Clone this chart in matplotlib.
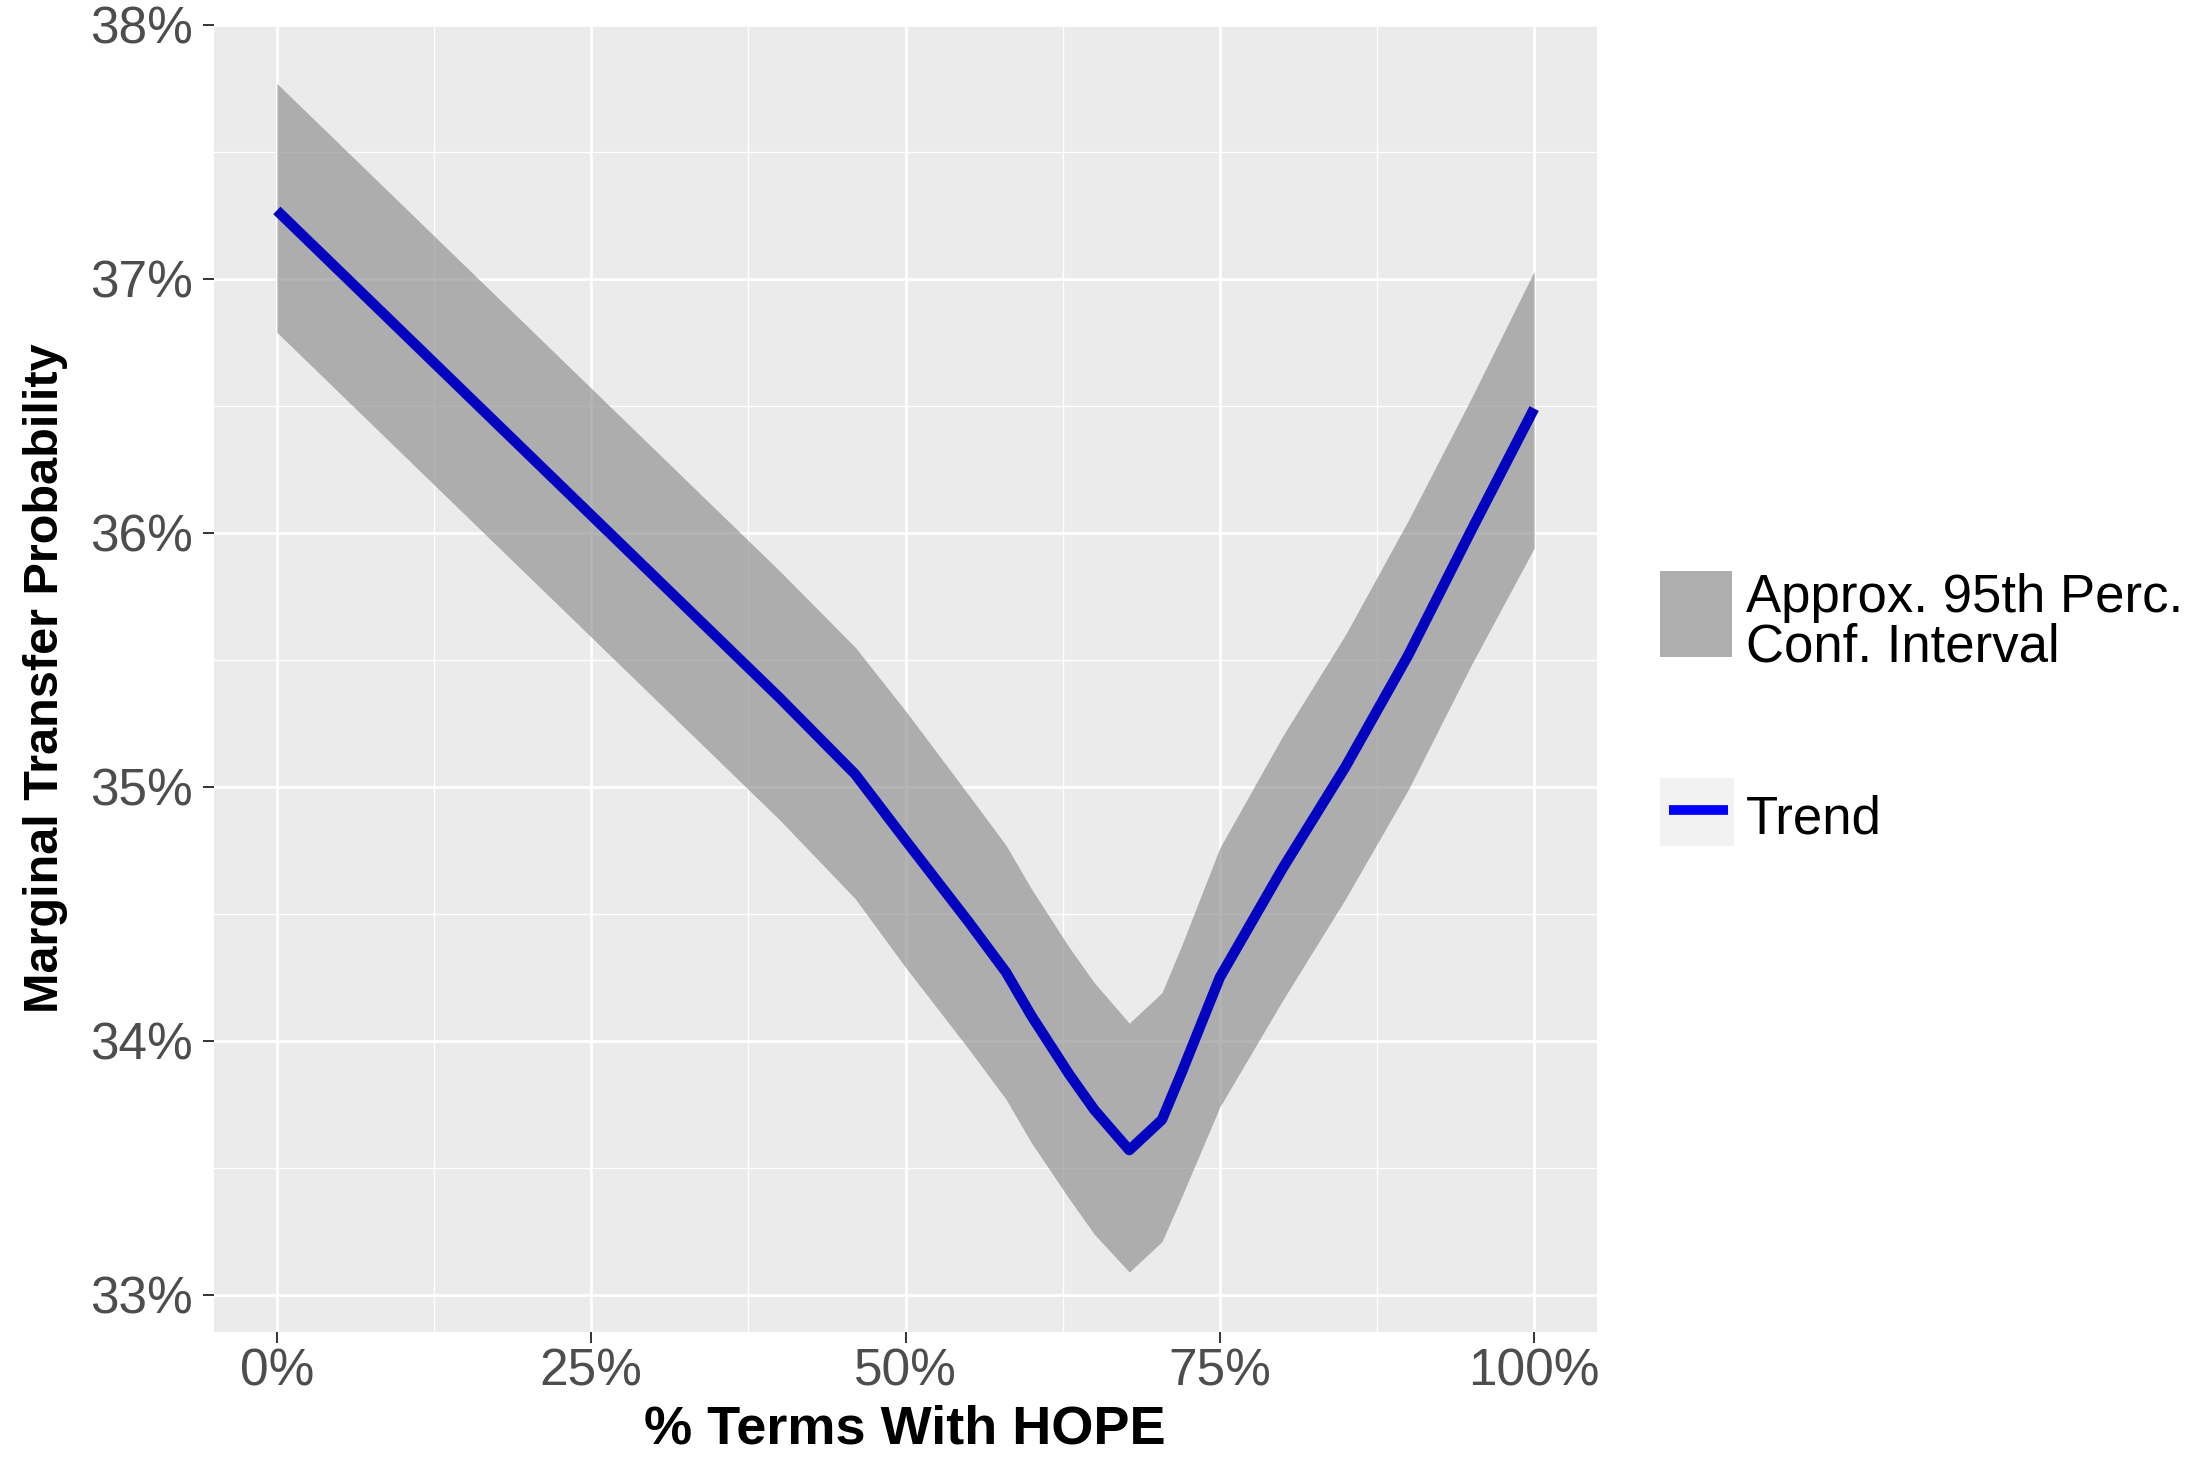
import matplotlib
matplotlib.use("Agg")
import matplotlib.pyplot as plt
from matplotlib.patches import Rectangle
from matplotlib.lines import Line2D
from matplotlib.ticker import FuncFormatter, MultipleLocator

# データ
hope_pct = [0, 5, 10, 15, 20, 25, 30, 35, 40, 46, 50, 55, 58, 60, 63, 65,
            67.8, 70.4, 72, 75, 80, 85, 90, 95, 100]
trend = [37.27, 37.03, 36.79, 36.55, 36.31, 36.07, 35.83, 35.59, 35.35, 35.05,
         34.79, 34.47, 34.27, 34.10, 33.87, 33.73, 33.57, 33.69, 33.88, 34.25,
         34.68, 35.08, 35.52, 36.01, 36.49]
ci_upper = [37.77, 37.53, 37.29, 37.05, 36.81, 36.57, 36.33, 36.09, 35.85, 35.55,
            35.30, 34.97, 34.77, 34.60, 34.37, 34.23, 34.07, 34.19, 34.38, 34.76,
            35.20, 35.60, 36.05, 36.53, 37.03]
ci_lower = [36.79, 36.55, 36.31, 36.07, 35.83, 35.59, 35.35, 35.11, 34.87, 34.56,
            34.29, 33.97, 33.77, 33.60, 33.38, 33.24, 33.09, 33.21, 33.39, 33.74,
            34.16, 34.56, 34.99, 35.48, 35.94]

x_ticks = [0, 25, 50, 75, 100]
y_ticks = [33, 34, 35, 36, 37, 38]

W, H = 2210, 1458

def fx(px):
    return px / W

def fy(py):
    return 1 - py / H

plt.rcParams['font.family'] = ['Liberation Sans', 'DejaVu Sans']

fig = plt.figure(figsize=(W / 100, H / 100), dpi=100)
ax = fig.add_axes([fx(214), fy(1332), fx(1597) - fx(214), fy(25) - fy(1332)])

# パネル（ggplot風）
ax.set_facecolor('#EBEBEB')
for s in ax.spines.values():
    s.set_visible(False)
ax.xaxis.set_major_locator(MultipleLocator(25))
ax.xaxis.set_minor_locator(MultipleLocator(12.5))
ax.yaxis.set_major_locator(MultipleLocator(1))
ax.yaxis.set_minor_locator(MultipleLocator(0.5))
ax.grid(which='major', color='white', linewidth=2.0)
ax.grid(which='minor', color='white', linewidth=1.0)
ax.set_axisbelow(True)

# 信頼区間とトレンド
ax.fill_between(hope_pct, ci_lower, ci_upper, color='#8C8C8C', alpha=0.65,
                linewidth=0, zorder=2)
ax.plot(hope_pct, trend, color='#0404C0', linewidth=7.5, zorder=3,
        solid_capstyle='butt', solid_joinstyle='round')

ax.set_xlim(-5, 105)
ax.set_ylim(32.854, 38.0)
ax.set_xticks(x_ticks)
ax.set_yticks(y_ticks)
ax.xaxis.set_major_formatter(FuncFormatter(lambda v, p: f"{v:.0f}%"))
ax.yaxis.set_major_formatter(FuncFormatter(lambda v, p: f"{v:.0f}%"))
ax.tick_params(which='major', length=8, width=1.4, color='#333333',
               labelcolor='#4D4D4D', labelsize=37)
ax.tick_params(axis='y', pad=7)
ax.tick_params(axis='x', pad=3)
ax.tick_params(which='minor', length=0)

# 軸ラベル
fig.text(fx(905), fy(1443), '% Terms With HOPE', ha='center', va='baseline',
         fontsize=39, fontweight='bold', color='black')
fig.text(fx(46), fy(678), 'Marginal Transfer Probability', ha='center',
         va='center', rotation=90, fontsize=35, fontweight='bold', color='black')

# 凡例
fig.add_artist(Rectangle((fx(1660), fy(657)), fx(1732) - fx(1660),
                         fy(571) - fy(657), transform=fig.transFigure,
                         facecolor='#AEAEAE', edgecolor='none'))
fig.text(fx(1746), fy(612), 'Approx. 95th Perc.', ha='left', va='baseline',
         fontsize=38, color='black')
fig.text(fx(1746), fy(662), 'Conf. Interval', ha='left', va='baseline',
         fontsize=38, color='black')
fig.add_artist(Rectangle((fx(1660), fy(846)), fx(1734) - fx(1660),
                         fy(778) - fy(846), transform=fig.transFigure,
                         facecolor='#F2F2F2', edgecolor='none'))
fig.add_artist(Line2D([fx(1669), fx(1728)], [fy(810), fy(810)],
                      transform=fig.transFigure, color='blue', linewidth=7,
                      solid_capstyle='butt'))
fig.text(fx(1746), fy(834), 'Trend', ha='left', va='baseline',
         fontsize=38, color='black')

fig.savefig('out.png', dpi=100)
